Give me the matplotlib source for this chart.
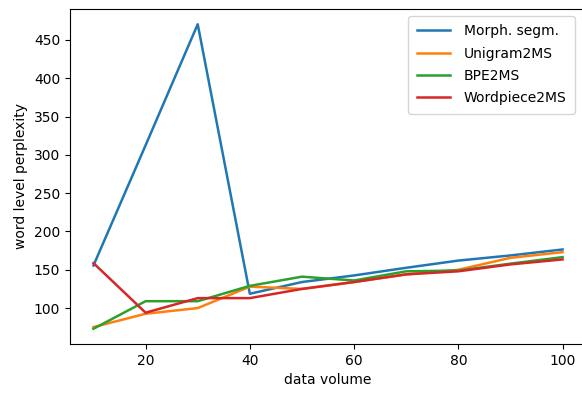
import matplotlib
matplotlib.use('Agg')
import matplotlib.pyplot as plt

volume = [10, 20, 30, 40, 50, 60, 70, 80, 90, 100]
morph = [155.6, 312.5, 470.5, 118.7, 134, 142.6, 152.6, 162, 168.7, 176.5]
unigram = [75.2, 92.6, 100, 128, 125, 134, 144, 150, 165.6, 173]
bpe = [73, 109, 109, 129, 141, 136, 148, 149, 158, 166.5]
wordpiece = [158.7, 94, 113, 113, 125, 134, 144, 148, 157, 163.5]


def main():
    fig = plt.figure(figsize=(5.82, 3.94), dpi=100)
    # the right spine sits just past the picture edge in the reference
    ax = fig.add_axes([0.1203, 0.1269, 0.8866, 0.8503])
    ax.plot(volume, morph, label='Morph. segm.', lw=1.8)
    ax.plot(volume, unigram, label='Unigram2MS', lw=1.8)
    ax.plot(volume, bpe, label='BPE2MS', lw=1.8)
    ax.plot(volume, wordpiece, label='Wordpiece2MS', lw=1.8)
    ax.set_xlabel("data volume")
    ax.set_ylabel("word level perplexity")
    ax.legend(loc='upper right', bbox_to_anchor=(0.0, 0.0, 0.992, 1.0),
              handlelength=2.4, labelspacing=0.6, borderpad=0.6, handletextpad=1.0)
    fig.savefig('out.png', dpi=100)

main()
